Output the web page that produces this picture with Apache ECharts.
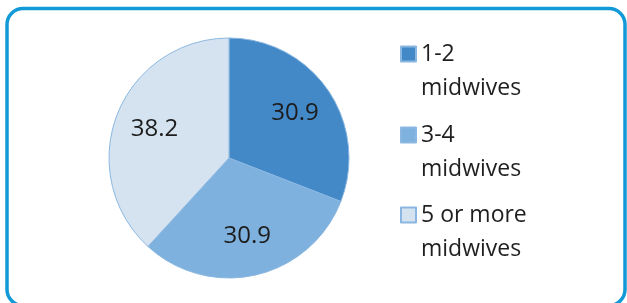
<!DOCTYPE html>
<html>
<head>
<meta charset="utf-8">
<script src="https://cdn.jsdelivr.net/npm/echarts@6/dist/echarts.min.js"></script>
<style>
  html, body { margin: 0; padding: 0; background: #fff; }
  #main { width: 627px; height: 303px; }
</style>
</head>
<body>
<div id="main"></div>
<script>
// data
var categories = ['1-2\nmidwives', '3-4\nmidwives', '5 or more\nmidwives'];
var values = [30.9, 30.9, 38.2];
var colors = ['#4389c8', '#7fb1de', '#d5e3f1'];

var pieCenter = [229, 158];
var pieRadius = 120;
var labelRadius = 80;
var legendTops = [37, 118, 198];

var chart = echarts.init(document.getElementById('main'));

var pieData = [];
for (var i = 0; i < categories.length; i++) {
    pieData.push({ name: categories[i], value: values[i], itemStyle: { color: colors[i] } });
}

// one legend per entry; the icon path is tall with the square at its top,
// so the square lines up with the first text line
var legends = [];
for (var j = 0; j < categories.length; j++) {
    legends.push({
        data: [categories[j]],
        orient: 'vertical',
        left: 400,
        top: legendTops[j],
        padding: 0,
        icon: 'path://M0,0h15v15h-15zM0,49h0',
        itemWidth: 15,
        itemHeight: 49,
        itemGap: 0,
        selectedMode: false,
        textStyle: {
            fontFamily: 'Open Sans',
            fontSize: 23,
            lineHeight: 34,
            color: '#1f1f1f'
        }
    });
}

chart.setOption({
    animation: false,
    legend: legends,
    graphic: [{
        type: 'rect',
        shape: { x: 7, y: 8.5, width: 618, height: 297, r: 16 },
        style: { fill: 'none', stroke: '#129ad8', lineWidth: 3.5 },
        silent: true
    }],
    series: [{
        type: 'pie',
        center: pieCenter,
        radius: pieRadius,
        startAngle: 90,
        clockwise: true,
        emphasis: { disabled: true },
        itemStyle: { borderColor: '#8ab7e1', borderWidth: 1 },
        label: {
            show: true,
            position: 'inside',
            formatter: '{c}',
            fontFamily: 'Open Sans',
            fontSize: 24,
            color: '#1c1c1c'
        },
        labelLine: { show: false },
        // push the inside labels further out, like the original
        labelLayout: function (p) {
            var r = p.labelRect;
            var lx = r.x + r.width / 2 - pieCenter[0];
            var ly = r.y + r.height / 2 - pieCenter[1];
            var d = Math.sqrt(lx * lx + ly * ly) || 1;
            return {
                x: pieCenter[0] + lx / d * labelRadius,
                y: pieCenter[1] + ly / d * labelRadius
            };
        },
        data: pieData
    }]
});
</script>
</body>
</html>
